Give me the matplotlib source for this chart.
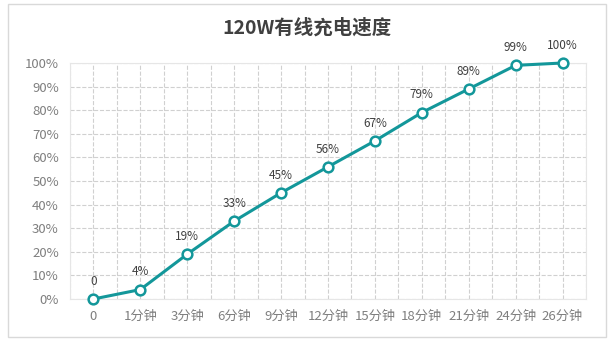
import matplotlib.pyplot as plt
from matplotlib.patches import Rectangle
from matplotlib.ticker import FixedLocator

plt.rcParams['font.family'] = ['Noto Sans CJK SC', 'DejaVu Sans']

# 充电进度数据
times = ['0', '1分钟', '3分钟', '6分钟', '9分钟', '12分钟', '15分钟', '18分钟', '21分钟', '24分钟', '26分钟']
percent = [0, 4, 19, 33, 45, 56, 67, 79, 89, 99, 100]
labels = ['0', '4%', '19%', '33%', '45%', '56%', '67%', '79%', '89%', '99%', '100%']
yticks = list(range(0, 101, 10))

teal = '#13979a'
fig = plt.figure(figsize=(6.15, 3.44), dpi=100)
ax = fig.add_axes([70 / 615, 1 - 299 / 344, 516 / 615, 236 / 344])

# 外框
fig.patches.append(Rectangle((8 / 615, 1 - 337 / 344), 598 / 615, 333 / 344,
                             transform=fig.transFigure, fill=False,
                             edgecolor='#d9d9d9', linewidth=1))

x = list(range(len(times)))
ax.plot(x, percent, color=teal, linewidth=2.2, marker='o', markersize=7,
        markerfacecolor='white', markeredgecolor=teal, markeredgewidth=1.8,
        zorder=3, clip_on=False)
for xi, yi, s in zip(x, percent, labels):
    ax.annotate(s, (xi, yi), xytext=(0, 8), textcoords='offset points',
                ha='center', va='bottom', fontsize=8.5, color='#404040')

ax.set_xlim(-0.5, 10.5)
ax.set_ylim(0, 100)
ax.set_xticks(x)
ax.set_xticklabels(times)
ax.xaxis.set_minor_locator(FixedLocator([i + 0.5 for i in range(-1, 11)]))
ax.set_yticks(yticks)
ax.set_yticklabels([f'{v}%' for v in yticks])
ax.tick_params(axis='both', which='both', length=0, labelsize=9.5,
               labelcolor='#7f7f7f', pad=8)
ax.grid(True, which='both', axis='x', color='#d0d0d0', linestyle='--', linewidth=0.8)
ax.grid(True, which='major', axis='y', color='#d0d0d0', linestyle='--', linewidth=0.8)
ax.set_axisbelow(True)
for sp in ax.spines.values():
    sp.set_color('#e6e6e6')
    sp.set_linewidth(0.8)

fig.text(307 / 615, 1 - 28 / 344, '120W有线充电速度', ha='center', va='center',
         fontsize=14, fontweight='bold', color='#404040')

fig.savefig('out.png', dpi=100)
